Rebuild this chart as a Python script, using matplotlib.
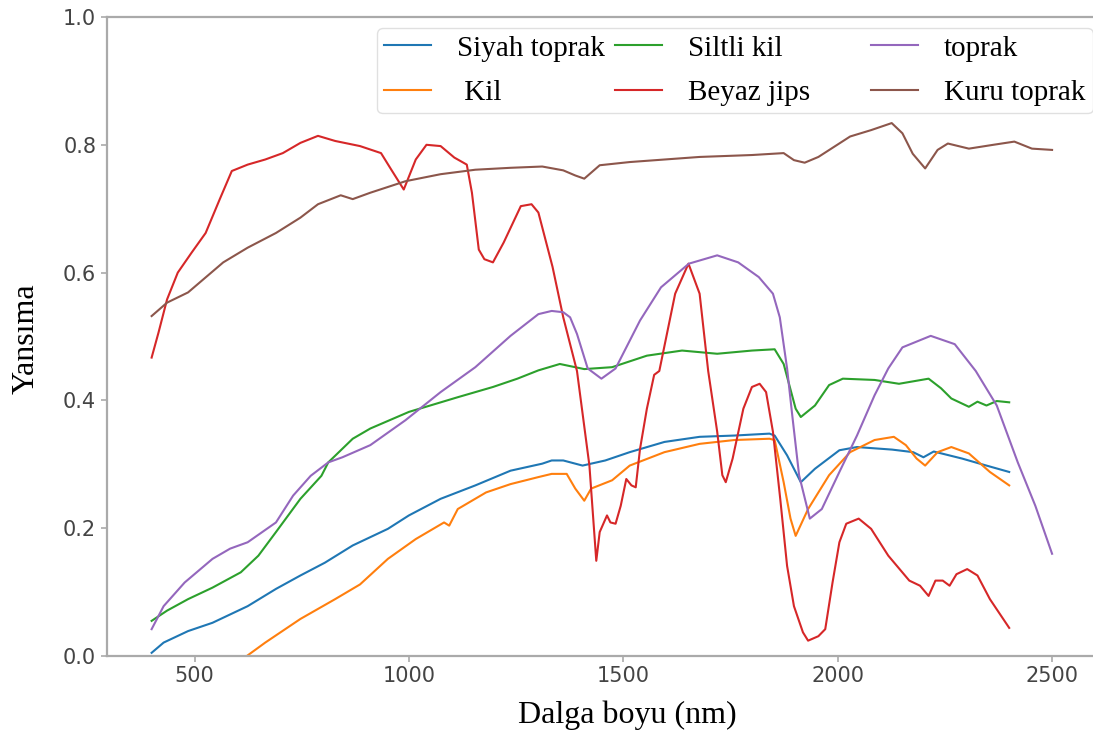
import matplotlib
matplotlib.use('Agg')
import matplotlib.pyplot as plt

# wavelength (nm) / reflectance
siyah_x = [400, 428, 485, 542, 624, 690, 747, 804, 869, 951, 1000, 1074, 1155, 1237, 1311, 1333,
           1360, 1405, 1458, 1515, 1596, 1678, 1759, 1841, 1853, 1882, 1914, 1947, 2004, 2045,
           2127, 2176, 2200, 2224, 2290, 2347, 2400]
siyah_y = [0.005, 0.021, 0.039, 0.052, 0.078, 0.105, 0.126, 0.146, 0.173, 0.199, 0.220, 0.246, 0.267,
           0.290, 0.301, 0.306, 0.306, 0.298, 0.306, 0.319, 0.335, 0.343, 0.345, 0.348, 0.345,
           0.314, 0.272, 0.293, 0.322, 0.327, 0.323, 0.319, 0.311, 0.320, 0.309, 0.298, 0.288]

kil_x = [622, 665, 747, 828, 886, 951, 1016, 1082, 1094, 1114, 1180, 1237, 1302, 1333, 1368, 1388,
         1409, 1425, 1474, 1515, 1596, 1678, 1759, 1841, 1853, 1874, 1890, 1902, 1931, 1980, 2029,
         2086, 2131, 2159, 2184, 2204, 2233, 2265, 2306, 2355, 2400]
kil_y = [0.0, 0.021, 0.058, 0.089, 0.112, 0.152, 0.183, 0.209, 0.204, 0.230, 0.256, 0.269, 0.280,
         0.285, 0.285, 0.262, 0.243, 0.262, 0.275, 0.298, 0.319, 0.332, 0.338, 0.340, 0.338, 0.272,
         0.215, 0.188, 0.230, 0.283, 0.319, 0.338, 0.343, 0.330, 0.309, 0.298, 0.319, 0.327, 0.317,
         0.288, 0.267]

siltli_x = [400, 436, 485, 542, 608, 649, 690, 747, 796, 812, 869, 910, 1000, 1114, 1196, 1253, 1302,
            1352, 1409, 1474, 1555, 1637, 1719, 1800, 1853, 1874, 1902, 1914, 1947, 1980, 2012, 2086,
            2143, 2212, 2241, 2265, 2306, 2326, 2347, 2371, 2400]
siltli_y = [0.055, 0.071, 0.089, 0.107, 0.131, 0.157, 0.194, 0.246, 0.282, 0.303, 0.340, 0.356, 0.382,
            0.405, 0.421, 0.434, 0.447, 0.457, 0.449, 0.452, 0.470, 0.478, 0.473, 0.478, 0.480, 0.457,
            0.387, 0.374, 0.392, 0.424, 0.434, 0.432, 0.426, 0.434, 0.419, 0.403, 0.390, 0.398, 0.392,
            0.399, 0.397]

jips_x = [400, 416, 436, 461, 493, 526, 559, 587, 624, 665, 706, 747, 788, 828, 886, 935, 959, 988,
          1016, 1041, 1074, 1106, 1135, 1147, 1163, 1176, 1196, 1221, 1261, 1286, 1302, 1335, 1360,
          1392, 1421, 1437, 1445, 1462, 1470, 1482, 1494, 1507, 1519, 1529, 1539, 1555, 1572, 1584,
          1621, 1652, 1678, 1698, 1719, 1731, 1739, 1755, 1780, 1800, 1818, 1833, 1849, 1866, 1882,
          1898, 1919, 1931, 1955, 1971, 1988, 2004, 2020, 2049, 2078, 2118, 2167, 2192, 2212, 2228,
          2245, 2261, 2277, 2302, 2326, 2355, 2400]
jips_y = [0.467, 0.506, 0.558, 0.600, 0.631, 0.662, 0.715, 0.759, 0.769, 0.777, 0.787, 0.803, 0.814,
          0.806, 0.798, 0.787, 0.761, 0.730, 0.777, 0.800, 0.798, 0.780, 0.769, 0.725, 0.636, 0.621,
          0.616, 0.647, 0.704, 0.707, 0.694, 0.609, 0.530, 0.446, 0.298, 0.149, 0.194, 0.220, 0.209,
          0.207, 0.235, 0.277, 0.267, 0.264, 0.324, 0.387, 0.440, 0.446, 0.567, 0.614, 0.567, 0.446,
          0.351, 0.283, 0.272, 0.309, 0.387, 0.421, 0.426, 0.413, 0.351, 0.246, 0.141, 0.078, 0.037,
          0.024, 0.031, 0.042, 0.115, 0.178, 0.207, 0.215, 0.199, 0.157, 0.118, 0.110, 0.094, 0.118,
          0.118, 0.110, 0.128, 0.136, 0.126, 0.089, 0.044]

toprak_x = [400, 428, 477, 542, 583, 624, 690, 730, 771, 812, 845, 910, 992, 1074, 1155, 1237, 1302,
            1333, 1360, 1376, 1392, 1417, 1449, 1482, 1539, 1588, 1653, 1719, 1768, 1816, 1849, 1865,
            1882, 1894, 1910, 1935, 1963, 2004, 2045, 2086, 2118, 2151, 2217, 2273, 2322, 2371, 2420,
            2461, 2500]
toprak_y = [0.042, 0.078, 0.115, 0.152, 0.168, 0.178, 0.209, 0.251, 0.282, 0.303, 0.311, 0.330, 0.369,
            0.413, 0.452, 0.501, 0.535, 0.540, 0.538, 0.530, 0.504, 0.450, 0.434, 0.450, 0.525, 0.577,
            0.614, 0.627, 0.616, 0.593, 0.567, 0.530, 0.450, 0.377, 0.283, 0.215, 0.230, 0.288, 0.345,
            0.408, 0.450, 0.483, 0.501, 0.488, 0.446, 0.392, 0.303, 0.235, 0.160]

kuru_x = [400, 436, 485, 567, 624, 690, 747, 788, 841, 869, 910, 992, 1074, 1155, 1237, 1311, 1360,
          1388, 1409, 1445, 1515, 1678, 1800, 1874, 1898, 1923, 1955, 2029, 2078, 2126, 2151, 2175,
          2204, 2233, 2257, 2306, 2363, 2412, 2453, 2500]
kuru_y = [0.532, 0.553, 0.569, 0.616, 0.639, 0.662, 0.686, 0.707, 0.721, 0.715, 0.725, 0.743, 0.754,
          0.761, 0.764, 0.766, 0.760, 0.752, 0.747, 0.768, 0.773, 0.781, 0.784, 0.787, 0.776, 0.772,
          0.781, 0.813, 0.823, 0.834, 0.818, 0.786, 0.763, 0.792, 0.802, 0.794, 0.800, 0.805, 0.794,
          0.792]

labels = ['Siyah toprak', ' Kil', 'Siltli kil', 'Beyaz jips       ', 'toprak', 'Kuru toprak']

serif = ['Liberation Serif', 'DejaVu Serif']

fig = plt.figure(figsize=(10.93, 7.35), dpi=100)
ax = fig.add_axes([106.6 / 1093, 79 / 735, 990.5 / 1093, 639 / 735])

ax.plot(siyah_x, siyah_y, label=labels[0], color='#1f77b4', lw=1.5)
ax.plot(kil_x, kil_y, label=labels[1], color='#ff7f0e', lw=1.5)
ax.plot(siltli_x, siltli_y, label=labels[2], color='#2ca02c', lw=1.5)
ax.plot(jips_x, jips_y, label=labels[3], color='#d62728', lw=1.5)
ax.plot(toprak_x, toprak_y, label=labels[4], color='#9467bd', lw=1.5)
ax.plot(kuru_x, kuru_y, label=labels[5], color='#8c564b', lw=1.5)

ax.set_xlim(295, 2605)
ax.set_ylim(0, 1.0)
ax.set_xticks([500, 1000, 1500, 2000, 2500])
ax.set_yticks([0.0, 0.2, 0.4, 0.6, 0.8, 1.0])

for s in ax.spines.values():
    s.set_color('#aaaaaa')
    s.set_linewidth(1.6)
ax.tick_params(labelsize=15, labelcolor='#444444', color='#aaaaaa', length=4, width=1.2)

ax.set_xlabel('Dalga boyu (nm)', family=serif, fontsize=23)
ax.xaxis.set_label_coords(0.526, -0.07)
ax.set_ylabel('Yansıma', family=serif, fontsize=23)
ax.yaxis.set_label_coords(-0.067, 0.496)

ax.legend(loc='upper left', bbox_to_anchor=(0.273, 0.983), borderaxespad=0, ncol=3,
          prop={'family': serif, 'size': 21}, handlelength=1.6, handletextpad=0.9,
          columnspacing=0.35, labelspacing=0.62, borderpad=0.25, edgecolor='0.85')

plt.savefig('out.png', dpi=100)
